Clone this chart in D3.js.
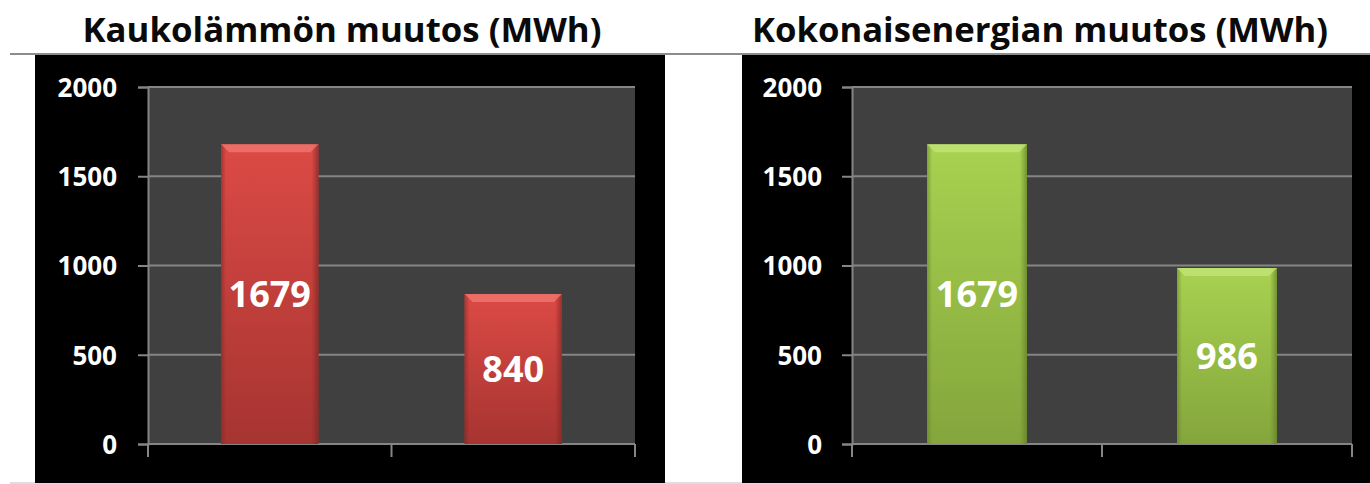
<!DOCTYPE html>
<html><head><meta charset="utf-8">
<script src="https://cdn.jsdelivr.net/npm/d3@7"></script>
<style>
html,body{margin:0;padding:0;background:#fff;}
svg{display:block;}
</style></head>
<body>
<svg id="chart" width="1370" height="484"></svg>
<script>
// ---- data ----
const titles = ["Kaukolämmön muutos (MWh)", "Kokonaisenergian muutos (MWh)"];
const categories = ["A", "B"];
const districtHeat = [1679, 840];
const totalEnergy = [1679, 986];
const yTicks = [0, 500, 1000, 1500, 2000];

// ---- layout ----
const panels = [
  {title: titles[0], values: districtHeat, boxX: 35, boxW: 630, x0: 148, x1: 635, titleX: 342, titleW: 519, labelX: 117,
   colors: {top: "#dc4a45", bot: "#a63431", edge: "#7e2422", hi: "#f07a72"}},
  {title: titles[1], values: totalEnergy, boxX: 742, boxW: 628, x0: 852, x1: 1352, titleX: 1040, titleW: 576, labelX: 822,
   colors: {top: "#a8d250", bot: "#84a53c", edge: "#5e7a28", hi: "#c4e57a"}}
];
const yTop = 87, yBottom = 444;

const svg = d3.select("#chart");
const defs = svg.append("defs");

// top rule
svg.append("line").attr("x1", 10).attr("x2", 1370).attr("y1", 54).attr("y2", 54)
  .attr("stroke", "#8c8c8c").attr("stroke-width", 2);
svg.append("line").attr("x1", 10).attr("x2", 1370).attr("y1", 483).attr("y2", 483)
  .attr("stroke", "#bdbdbd").attr("stroke-width", 1);

panels.forEach((p, i) => {
  const g = svg.append("g");
  // title
  g.append("text").attr("x", p.titleX).attr("y", 42)
    .attr("text-anchor", "middle")
    .attr("font-family", "'Open Sans', sans-serif").attr("font-weight", 700)
    .attr("font-size", 34).attr("fill", "#0a0a0a")
    .attr("textLength", p.titleW).attr("lengthAdjust", "spacingAndGlyphs")
    .text(p.title);

  // black box
  g.append("rect").attr("x", p.boxX).attr("y", 55).attr("width", p.boxW).attr("height", 428)
    .attr("fill", "#000");

  const y = d3.scaleLinear().domain([0, 2000]).range([yBottom, yTop]);
  const x = d3.scaleBand().domain(categories).range([p.x0, p.x1]).paddingInner(0.6).paddingOuter(0.3);

  // plot background
  g.append("rect").attr("x", p.x0).attr("y", y(2000)).attr("width", p.x1 - p.x0)
    .attr("height", y(0) - y(2000)).attr("fill", "#404040");

  // gridlines
  g.selectAll(".grid").data(yTicks.filter(d => d > 0)).join("line")
    .attr("x1", p.x0).attr("x2", p.x1).attr("y1", d => y(d)).attr("y2", d => y(d))
    .attr("stroke", "#858585").attr("stroke-width", 2);

  // y axis
  const yAxis = d3.axisLeft(y).tickValues(yTicks).tickSize(10).tickPadding(21).tickFormat(d3.format("d"));
  const ya = g.append("g").attr("transform", `translate(${p.x0},0)`).call(yAxis);
  ya.select(".domain").attr("stroke", "#858585").attr("stroke-width", 2);
  ya.selectAll(".tick line").attr("stroke", "#858585").attr("stroke-width", 2);
  ya.selectAll(".tick text").attr("fill", "#fff").attr("font-family", "'Open Sans', sans-serif")
    .attr("font-weight", 700).attr("font-size", 26)
    .attr("x", p.labelX - p.x0).attr("dy", "0.36em");

  // x axis line with ticks at band boundaries
  const xb = d3.scaleLinear().domain([0, categories.length]).range([p.x0, p.x1]);
  g.append("line").attr("x1", p.x0).attr("x2", p.x1).attr("y1", y(0)).attr("y2", y(0))
    .attr("stroke", "#858585").attr("stroke-width", 2);
  g.selectAll(".xt").data(d3.range(categories.length + 1)).join("line")
    .attr("x1", d => xb(d)).attr("x2", d => xb(d)).attr("y1", y(0)).attr("y2", y(0) + 13)
    .attr("stroke", "#858585").attr("stroke-width", 2);

  // gradients
  const gid = "grad" + i;
  const lg = defs.append("linearGradient").attr("id", gid).attr("x1", 0).attr("x2", 0).attr("y1", 0).attr("y2", 1);
  lg.append("stop").attr("offset", "0%").attr("stop-color", p.colors.top);
  lg.append("stop").attr("offset", "100%").attr("stop-color", p.colors.bot);
  const sid = "side" + i;
  const sg = defs.append("linearGradient").attr("id", sid).attr("x1", 0).attr("x2", 1).attr("y1", 0).attr("y2", 0);
  sg.append("stop").attr("offset", "0%").attr("stop-color", p.colors.edge).attr("stop-opacity", 0.55);
  sg.append("stop").attr("offset", "5%").attr("stop-color", p.colors.edge).attr("stop-opacity", 0.0);
  sg.append("stop").attr("offset", "93%").attr("stop-color", p.colors.edge).attr("stop-opacity", 0.0);
  sg.append("stop").attr("offset", "100%").attr("stop-color", p.colors.edge).attr("stop-opacity", 0.7);

  const data = categories.map((c, k) => ({c, v: p.values[k]}));
  const bars = g.selectAll(".bar").data(data).join("g");
  bars.append("rect")
    .attr("x", d => x(d.c)).attr("y", d => y(d.v))
    .attr("width", x.bandwidth()).attr("height", d => y(0) - y(d.v))
    .attr("fill", `url(#${gid})`);
  bars.append("rect")
    .attr("x", d => x(d.c)).attr("y", d => y(d.v))
    .attr("width", x.bandwidth()).attr("height", d => y(0) - y(d.v))
    .attr("fill", `url(#${sid})`);
  // top bevel
  bars.append("path")
    .attr("d", d => {
      const l = x(d.c), r = l + x.bandwidth(), t = y(d.v), b = 8;
      return `M${l},${t}L${r},${t}L${r - b},${t + b}L${l + b},${t + b}Z`;
    })
    .attr("fill", p.colors.hi).attr("opacity", 0.75);
  // value labels
  bars.append("text")
    .attr("x", d => x(d.c) + x.bandwidth() / 2)
    .attr("y", d => (y(d.v) + y(0)) / 2)
    .attr("dy", "0.36em").attr("text-anchor", "middle")
    .attr("font-family", "'Open Sans', sans-serif").attr("font-weight", 700)
    .attr("font-size", 36).attr("fill", "#fff")
    .text(d => d.v);
});
</script>
</body></html>
